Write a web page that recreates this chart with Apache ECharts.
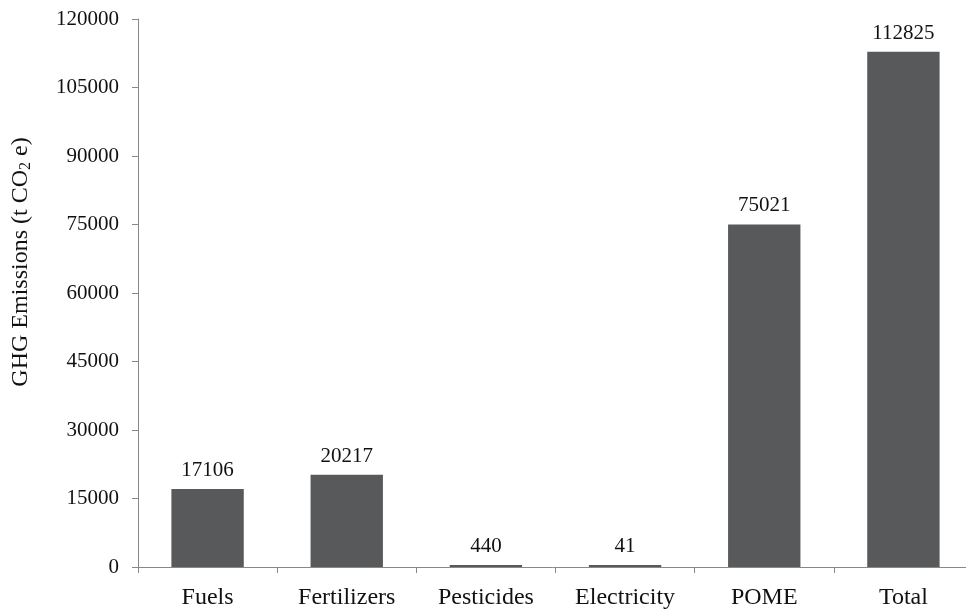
<!DOCTYPE html>
<html>
<head>
<meta charset="utf-8">
<script src="https://cdn.jsdelivr.net/npm/echarts@6/dist/echarts.min.js"></script>
<style>html,body{margin:0;padding:0;background:#fff}#c{width:966px;height:614px}</style>
</head>
<body>
<div id="c"></div>
<script>
const categories = ['Fuels', 'Fertilizers', 'Pesticides', 'Electricity', 'POME', 'Total'];
const emissions = [17106, 20217, 440, 41, 75021, 112825];
const yTicks = [0, 15000, 30000, 45000, 60000, 75000, 90000, 105000, 120000];

const chart = echarts.init(document.getElementById('c'), null, {renderer: 'canvas'});
const font = '"Liberation Serif", "Times New Roman", serif';
chart.setOption({
  animation: false,
  grid: {left: 138, right: -7, top: 19, bottom: 47, containLabel: false, outerBoundsMode: 'none'},
  xAxis: {
    type: 'category',
    data: categories,
    axisLine: {lineStyle: {color: '#888', width: 1}},
    axisTick: {show: true, length: 6, alignWithLabel: false, lineStyle: {color: '#888'}},
    axisLabel: {color: '#111', fontFamily: font, fontSize: 24, margin: 19},
    splitLine: {show: false}
  },
  yAxis: {
    type: 'value',
    min: yTicks[0],
    max: yTicks[yTicks.length - 1],
    interval: 15000,
    axisLine: {show: true, lineStyle: {color: '#888', width: 1}},
    axisTick: {show: true, length: 6, lineStyle: {color: '#888'}},
    splitLine: {show: false},
    axisLabel: {color: '#111', fontFamily: font, fontSize: 21, margin: 19, formatter: v => String(v)},
    name: '{a|GHG Emissions (t CO}{s|2}{a| e)}',
    nameLocation: 'middle',
    nameGap: 104,
    nameRotate: 90,
    nameTextStyle: {
      padding: [0, 0, 0, 62],
      rich: {
        a: {fontFamily: font, fontSize: 24, color: '#111'},
        s: {fontFamily: font, fontSize: 16, color: '#111', verticalAlign: 'bottom', padding: [10, 0, 0, 0]}
      }
    }
  },
  series: [{
    type: 'bar',
    data: emissions,
    barWidth: '52%',
    barMinHeight: 2,
    itemStyle: {color: '#58595b'},
    label: {show: true, position: 'top', distance: 8, color: '#111', fontFamily: font, fontSize: 21}
  }]
});
</script>
</body>
</html>
